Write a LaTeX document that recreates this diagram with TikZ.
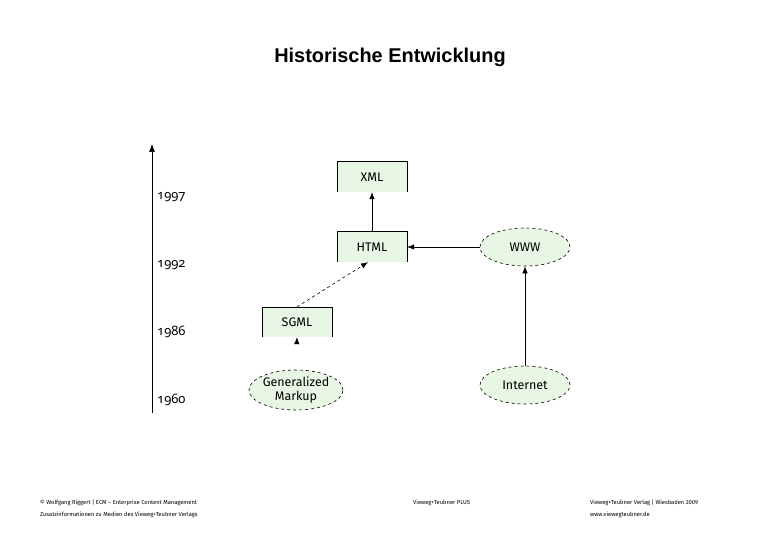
\documentclass[tikz,border=0pt]{standalone}
\usepackage{fontspec}
\setmainfont{Liberation Sans}
\newfontfamily\nodefont{Fira Sans}
\newfontfamily\yearfont[Numbers=OldStyle]{Noto Sans}
\usetikzlibrary{arrows.meta,shapes.geometric}
\definecolor{boxgreen}{RGB}{232,246,228}
\tikzset{
  every picture/.style={x=1bp,y=-1bp},
  box/.style={fill=boxgreen,minimum width=70bp,minimum height=30bp,inner sep=0pt,font=\nodefont\fontsize{12.5}{14}\selectfont},
  oval/.style={ellipse,draw,dashed,line width=0.6bp,fill=boxgreen,inner sep=0pt,font=\nodefont\fontsize{12.5}{13.5}\selectfont,align=center},
  yearlbl/.style={anchor=west,inner sep=0pt,font=\yearfont\fontsize{13}{16}\selectfont},
  conn/.style={line width=0.6bp,-{Latex[length=7bp,width=5.5bp]}},
  foot/.style={anchor=west,inner sep=0pt,font=\nodefont\fontsize{5.8}{7}\selectfont},
}
\begin{document}
\begin{tikzpicture}
\useasboundingbox (0,0) rectangle (780,540);
\node[font=\bfseries\fontsize{20}{22}\selectfont,inner sep=0pt] (title) at (390,57) {Historische Entwicklung};
% time axis
\coordinate (axbot) at (152,413);
\coordinate (axtop) at (152,144);
\draw[line width=0.6bp,-{Latex[length=8bp,width=6bp]}] (axbot) -- (axtop);
\node[yearlbl] (y1997) at (157,197) {1997};
\node[yearlbl] (y1992) at (157,265) {1992};
\node[yearlbl] (y1986) at (157,332) {1986};
\node[yearlbl] (y1960) at (157,400) {1960};
% boxes
\node[box] (xml) at (372,177) {XML};
\node[box] (html) at (372,247) {HTML};
\node[box] (sgml) at (297,322) {SGML};
\foreach \n in {xml,html,sgml}
  \draw[line width=0.6bp] (\n.south west) -- (\n.north west) -- (\n.north east) -- (\n.south east);
% ellipses
\node[oval,minimum width=90bp,minimum height=38bp] (www) at (525,247) {WWW};
\node[oval,minimum width=90bp,minimum height=38bp] (internet) at (525,385) {Internet};
\node[oval,minimum width=93bp,minimum height=40bp] (gm) at (296,390) {Generalized\\Markup};
% connectors
\draw[conn] (html.north) -- (xml.south);
\draw[conn] (www.west) -- (html.east);
\draw[conn] (internet.north) -- (www.north |- www.south);
\draw[conn,dashed,-{Latex[length=7bp,width=5.5bp]}] (sgml.north) -- ([xshift=-4bp]html.south);
\draw[draw=white,line width=0.6bp,-{Latex[length=7bp,width=5.5bp,color=black]}] (gm.north) -- (sgml.south);
% footer
\node[foot] (f1) at (40,503) {© Wolfgang Riggert | ECM – Enterprise Content Management};
\node[foot] (f2) at (40,515) {Zusatzinformationen zu Medien des Vieweg+Teubner Verlags};
\node[foot] (f3) at (413,503) {Vieweg+Teubner PLUS};
\node[foot] (f4) at (590,503) {Vieweg+Teubner Verlag | Wiesbaden 2009};
\node[foot] (f5) at (590,515) {www.viewegteubner.de};
\end{tikzpicture}
\end{document}
